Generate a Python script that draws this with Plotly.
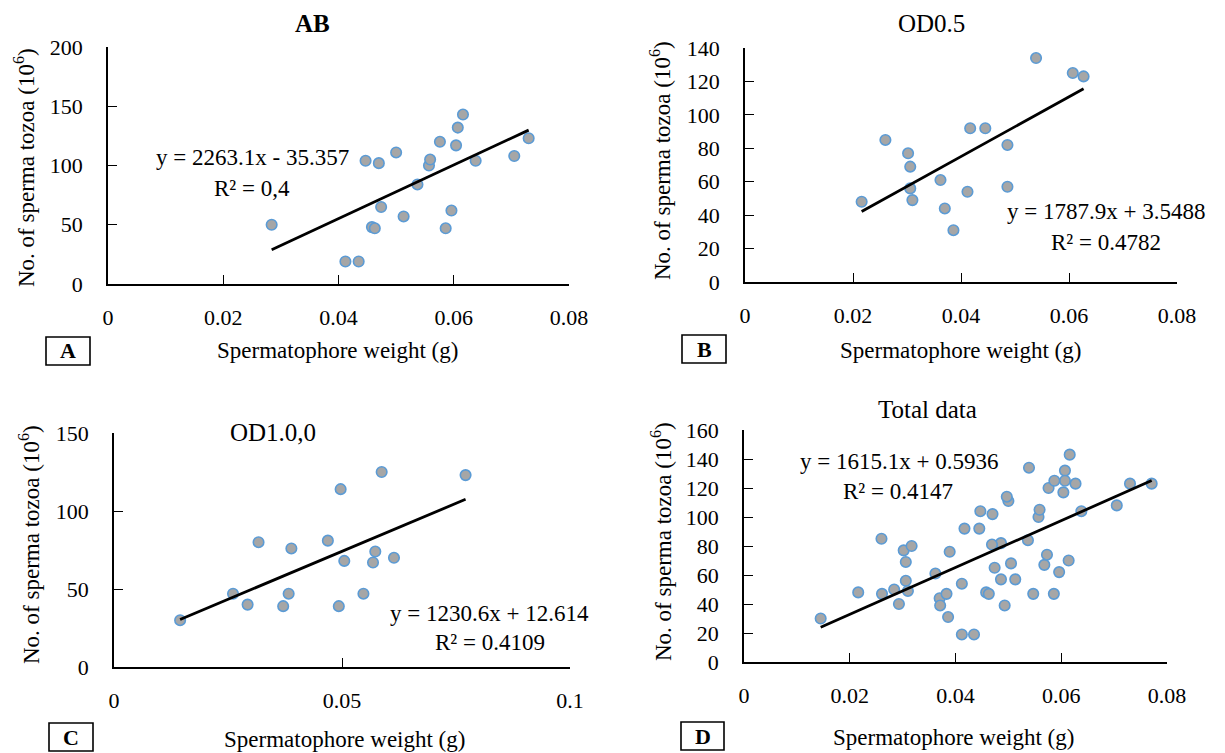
import plotly.graph_objects as go

# ---------------- data ----------------
A_x = [0.0284, 0.0412, 0.0435, 0.0447, 0.0470, 0.0458, 0.0463, 0.0474, 0.0500, 0.0513,
       0.0537, 0.0557, 0.0559, 0.0576, 0.0586, 0.0596, 0.0604, 0.0607, 0.0616, 0.0638,
       0.0705, 0.0730]
A_y = [50, 19, 19, 104, 102, 48, 47, 65, 111, 57, 84, 100, 105, 120, 47, 62, 117, 132,
       143, 104, 108, 123]

B_x = [0.0216, 0.0260, 0.0302, 0.0306, 0.0306, 0.0310, 0.0362, 0.0370, 0.0386, 0.0412,
       0.0417, 0.0445, 0.0486, 0.0486, 0.0539, 0.0607, 0.0627]
B_y = [48, 85, 77, 69, 56, 49, 61, 44, 31, 54, 92, 92, 82, 57, 134, 125, 123]

C_x = [0.0145, 0.0261, 0.0293, 0.0317, 0.0371, 0.0383, 0.0389, 0.0469, 0.0493, 0.0497,
       0.0505, 0.0547, 0.0568, 0.0573, 0.0587, 0.0614, 0.0771]
C_y = [30, 47, 40, 80, 39, 47, 76, 81, 39, 114, 68, 47, 67, 74, 125, 70, 123]

D_x = A_x + B_x + C_x
D_y = A_y + B_y + C_y

# trendline coefficients as printed on the chart
A_fit = (2263.1, -35.357)
B_fit = (1787.9, 3.5488)
C_fit = (1230.6, 12.614)
D_fit = (1615.1, 0.5936)

titles = ["AB", "OD0.5", "OD1.0,0", "Total data"]
equations = ["y = 2263.1x - 35.357", "y = 1787.9x + 3.5488",
             "y = 1230.6x + 12.614", "y = 1615.1x + 0.5936"]
r2_labels = ["R² = 0,4", "R² = 0.4782", "R² = 0.4109", "R² = 0.4147"]
panel_letters = ["A", "B", "C", "D"]

x_ticks_008 = [0, 0.02, 0.04, 0.06, 0.08]
x_ticktext_008 = ["0", "0.02", "0.04", "0.06", "0.08"]
x_ticks_01 = [0, 0.05, 0.1]
x_ticktext_01 = ["0", "0.05", "0.1"]
A_yticks = [0, 50, 100, 150, 200]
B_yticks = [0, 20, 40, 60, 80, 100, 120, 140]
C_yticks = [0, 50, 100, 150]
D_yticks = [0, 20, 40, 60, 80, 100, 120, 140, 160]

x_title = "Spermatophore weight (g)"
y_title = "No. of sperma tozoa (10<sup>6</sup>)"

# ---------------- layout geometry (pixels of the 1225x753 page) ----------------
PAGE_W, PAGE_H = 1225, 753
OFF = 8                      # default body margin of the html page
W, H = PAGE_W - 2 * OFF, PAGE_H - OFF
FONT = "Liberation Serif"


def fx(p):
    return (p - OFF) / W


def fy(p):
    return 1 - (p - OFF) / H


panels = [
    dict(x=A_x, y=A_y, fit=A_fit, xd=(108, 569), yd=(284, 47), xr=[0, 0.08],
         xt=x_ticks_008, xtt=x_ticktext_008, yt=A_yticks, yr=[0, 200],
         title_xy=(312, 24), bold=True, eq_xy=(252, 158), r2_xy=(252, 188),
         xt_xy=(337, 351), yt_xy=(24, 168), box=(46, 337, 90, 365)),
    dict(x=B_x, y=B_y, fit=B_fit, xd=(745, 1177), yd=(282, 48), xr=[0, 0.08],
         xt=x_ticks_008, xtt=x_ticktext_008, yt=B_yticks, yr=[0, 140],
         title_xy=(931, 24), bold=False, eq_xy=(1106, 212), r2_xy=(1106, 242),
         xt_xy=(960, 351), yt_xy=(661, 161), box=(682, 335, 726, 363)),
    dict(x=C_x, y=C_y, fit=C_fit, xd=(114, 570), yd=(667, 433), xr=[0, 0.1],
         xt=x_ticks_01, xtt=x_ticktext_01, yt=C_yticks, yr=[0, 150],
         title_xy=(273, 432), bold=False, eq_xy=(489, 613), r2_xy=(490, 642),
         xt_xy=(344, 739), yt_xy=(29, 545), box=(49, 723, 93, 751)),
    dict(x=D_x, y=D_y, fit=D_fit, xd=(744, 1167), yd=(662, 430), xr=[0, 0.08],
         xt=x_ticks_008, xtt=x_ticktext_008, yt=D_yticks, yr=[0, 160],
         title_xy=(927, 409), bold=False, eq_xy=(899, 461), r2_xy=(898, 491),
         xt_xy=(954, 737), yt_xy=(661, 542), box=(681, 722, 724, 750)),
]

fig = go.Figure()
annotations = []
shapes = []
layout_axes = {}

for i, p in enumerate(panels):
    n = i + 1
    xa = "x" if n == 1 else f"x{n}"
    ya = "y" if n == 1 else f"y{n}"
    # scatter points
    fig.add_trace(go.Scatter(
        x=p["x"], y=p["y"], mode="markers", xaxis=xa, yaxis=ya,
        marker=dict(size=10.5, color="#a6a6a6",
                    line=dict(color="#5b9bd5", width=1.6)),
        showlegend=False, hoverinfo="x+y"))
    # linear trendline from printed coefficients
    xmin, xmax = min(p["x"]), max(p["x"])
    m, b = p["fit"]
    fig.add_trace(go.Scatter(
        x=[xmin, xmax], y=[m * xmin + b, m * xmax + b], mode="lines",
        xaxis=xa, yaxis=ya, line=dict(color="black", width=2.8),
        showlegend=False, hoverinfo="skip"))

    common = dict(showline=True, linecolor="black", linewidth=1.6,
                  ticks="inside", ticklen=9, tickwidth=1.4, tickcolor="black",
                  showgrid=False, zeroline=False, automargin=False,
                  tickfont=dict(family=FONT, size=22, color="black"))
    layout_axes["xaxis" if n == 1 else f"xaxis{n}"] = dict(
        domain=[fx(p["xd"][0]), fx(p["xd"][1])], range=p["xr"],
        tickvals=p["xt"], ticktext=p["xtt"], anchor=ya,
        ticklabelstandoff=13, **common)
    layout_axes["yaxis" if n == 1 else f"yaxis{n}"] = dict(
        domain=[fy(p["yd"][0]), fy(p["yd"][1])], range=p["yr"],
        tickvals=p["yt"], anchor=xa, ticklabelstandoff=19, **common)

    tfont = dict(family=FONT, size=25, color="black")
    ttext = f"<b>{titles[i]}</b>" if p["bold"] else titles[i]
    annotations.append(dict(x=fx(p["title_xy"][0]), y=fy(p["title_xy"][1]),
                            xref="paper", yref="paper", text=ttext, showarrow=False,
                            xanchor="center", yanchor="middle", font=tfont))
    efont = dict(family=FONT, size=23, color="black")
    annotations.append(dict(x=fx(p["eq_xy"][0]), y=fy(p["eq_xy"][1]),
                            xref="paper", yref="paper", text=equations[i],
                            showarrow=False, xanchor="center", yanchor="middle",
                            font=efont))
    annotations.append(dict(x=fx(p["r2_xy"][0]), y=fy(p["r2_xy"][1]),
                            xref="paper", yref="paper", text=r2_labels[i],
                            showarrow=False, xanchor="center", yanchor="middle",
                            font=efont))
    annotations.append(dict(x=fx(p["xt_xy"][0]), y=fy(p["xt_xy"][1]),
                            xref="paper", yref="paper", text=x_title,
                            showarrow=False, xanchor="center", yanchor="middle",
                            font=efont))
    annotations.append(dict(x=fx(p["yt_xy"][0]), y=fy(p["yt_xy"][1]),
                            xref="paper", yref="paper", text=y_title,
                            showarrow=False, xanchor="center", yanchor="middle",
                            textangle=-90, font=efont))
    bx0, by0, bx1, by1 = p["box"]
    shapes.append(dict(type="rect", xref="paper", yref="paper",
                       x0=fx(bx0), x1=fx(bx1), y0=fy(by1), y1=fy(by0),
                       line=dict(color="black", width=1.6)))
    annotations.append(dict(x=fx((bx0 + bx1) / 2), y=fy((by0 + by1) / 2),
                            xref="paper", yref="paper",
                            text=f"<b>{panel_letters[i]}</b>", showarrow=False,
                            xanchor="center", yanchor="middle",
                            font=dict(family=FONT, size=22, color="black")))

fig.update_layout(
    width=W, height=H, autosize=False,
    margin=dict(l=0, r=0, t=0, b=0, autoexpand=False),
    paper_bgcolor="white", plot_bgcolor="white",
    font=dict(family=FONT, color="black"),
    annotations=annotations, shapes=shapes,
    **layout_axes)

fig.write_html("out.html", config={"displayModeBar": False})
